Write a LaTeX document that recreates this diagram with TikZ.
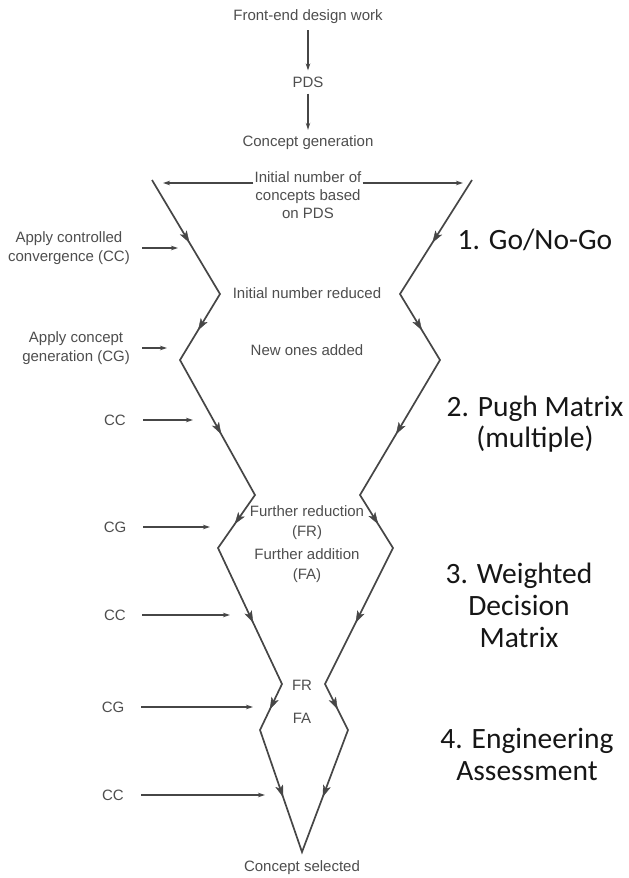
\documentclass[tikz,border=0pt]{standalone}
\usepackage{fontspec}
\setmainfont{Liberation Sans}
\newfontfamily\labfont{Carlito}
\usetikzlibrary{arrows.meta,decorations.markings}
\definecolor{txtgray}{RGB}{78,78,78}
\definecolor{linegray}{RGB}{70,70,70}
\definecolor{labblack}{RGB}{22,22,22}
\begin{document}
\begin{tikzpicture}[x=1pt,y=-1pt,
  txt/.style={text=txtgray,font=\fontsize{15}{19}\selectfont,inner sep=1pt,align=center},
  lab/.style={text=labblack,font=\labfont\fontsize{29.5}{31}\selectfont,align=center,inner sep=0pt},
  funnelline/.style={draw=linegray,line width=1.7pt,line join=miter},
  midarr/.style={color=linegray,postaction={decorate},decoration={markings,mark=at position 0.55 with {\arrow{Stealth[length=12pt,width=8pt,inset=3pt]}}}},
  inarr/.style={draw=linegray,line width=1.1pt,-{Stealth[length=7pt,width=4.5pt]},shorten <=14pt},
  toparr/.style={draw=linegray,line width=1.1pt,-{Stealth[length=7pt,width=4.5pt]},shorten <=5pt,shorten >=5pt}]
\useasboundingbox (0,0) rectangle (629,878);
\fill[white] (0,0) rectangle (629,878);

% top chain
\node[txt] (fe) at (308,17) {Front-end design work};
\node[txt] (pds) at (308,82) {PDS};
\node[txt] (cg) at (308,143) {Concept generation};
\draw[toparr] (fe) -- (pds);
\draw[toparr] (pds) -- (cg);

\node[txt,font=\fontsize{15}{18}\selectfont] (init) at (308,195) {Initial number of\\concepts based\\on PDS};
\coordinate (tipL) at (163,183);
\coordinate (tipR) at (463,183);
\draw[inarr,shorten <=0pt] (init.west |- tipL) -- (tipL);
\draw[inarr,shorten <=0pt] (init.east |- tipR) -- (tipR);

% funnel vertices
\coordinate (L0) at (152,180);
\coordinate (L1) at (220,294);
\coordinate (L2) at (180,360);
\coordinate (L3) at (255,495);
\coordinate (L4) at (218,548);
\coordinate (L5) at (282,684);
\coordinate (L6) at (260,730);
\coordinate (A)  at (302,852);
\coordinate (R0) at (472,180);
\coordinate (R1) at (400,294);
\coordinate (R2) at (440,360);
\coordinate (R3) at (360,495);
\coordinate (R4) at (393,548);
\coordinate (R5) at (325,684);
\coordinate (R6) at (348,730);

\draw[funnelline] (L0) -- (L1) -- (L2) -- (L3) -- (L4) -- (L5) -- (L6) -- (A)
  -- (R6) -- (R5) -- (R4) -- (R3) -- (R2) -- (R1) -- (R0);
\foreach \a/\b in {L0/L1,L1/L2,L2/L3,L3/L4,L4/L5,L5/L6,L6/A,R0/R1,R1/R2,R2/R3,R3/R4,R4/R5,R5/R6,R6/A}
  \path[midarr] (\a) -- (\b);

% centre texts
\node[txt] (inr) at (307,293) {Initial number reduced};
\node[txt] (noa) at (307,350) {New ones added};
\node[txt,font=\fontsize{15}{20}\selectfont] (fr) at (307,523) {Further reduction\\(FR)};
\node[txt,font=\fontsize{15}{20}\selectfont] (fa) at (307,566) {Further addition\\(FA)};
\node[txt] (fr2) at (302,685) {FR};
\node[txt] (fa2) at (302,718) {FA};
\node[txt] (cs) at (302,868) {Concept selected};

% left inputs
\node[txt,anchor=east] (acc) at (131,248) {Apply controlled\\convergence (CC)};
\node[txt,anchor=east] (acg) at (131,348) {Apply concept\\generation (CG)};
\node[txt] (cc1) at (115,420) {CC};
\node[txt] (cg1) at (115,527) {CG};
\node[txt] (cc2) at (115,615) {CC};
\node[txt] (cg2) at (113,707) {CG};
\node[txt] (cc3) at (113,795) {CC};
\coordinate (e1) at (178,248);
\coordinate (e2) at (167,348);
\coordinate (e3) at (193,420);
\coordinate (e4) at (210,527);
\coordinate (e5) at (230,615);
\coordinate (e6) at (253,707);
\coordinate (e7) at (265,795);
\draw[inarr,shorten <=11pt] (acc.east) -- (e1);
\draw[inarr,shorten <=11pt] (acg.east) -- (e2);
\draw[inarr,shorten <=16pt] (cc1.east) -- (e3);
\draw[inarr,shorten <=16pt] (cg1.east) -- (e4);
\draw[inarr,shorten <=15pt] (cc2.east) -- (e5);
\draw[inarr,shorten <=16pt] (cg2.east) -- (e6);
\draw[inarr,shorten <=16pt] (cc3.east) -- (e7);

% right labels
\node[lab] (m1) at (535,240) {1. Go/No-Go};
\node[lab] (m2) at (535,424) {2. Pugh Matrix\\(multiple)};
\node[lab,font=\labfont\fontsize{29.5}{32}\selectfont] (m3) at (519,605) {3. Weighted\\Decision\\Matrix};
\node[lab,font=\labfont\fontsize{29.5}{32}\selectfont] (m4) at (527,754) {4. Engineering\\Assessment};
\end{tikzpicture}
\end{document}
